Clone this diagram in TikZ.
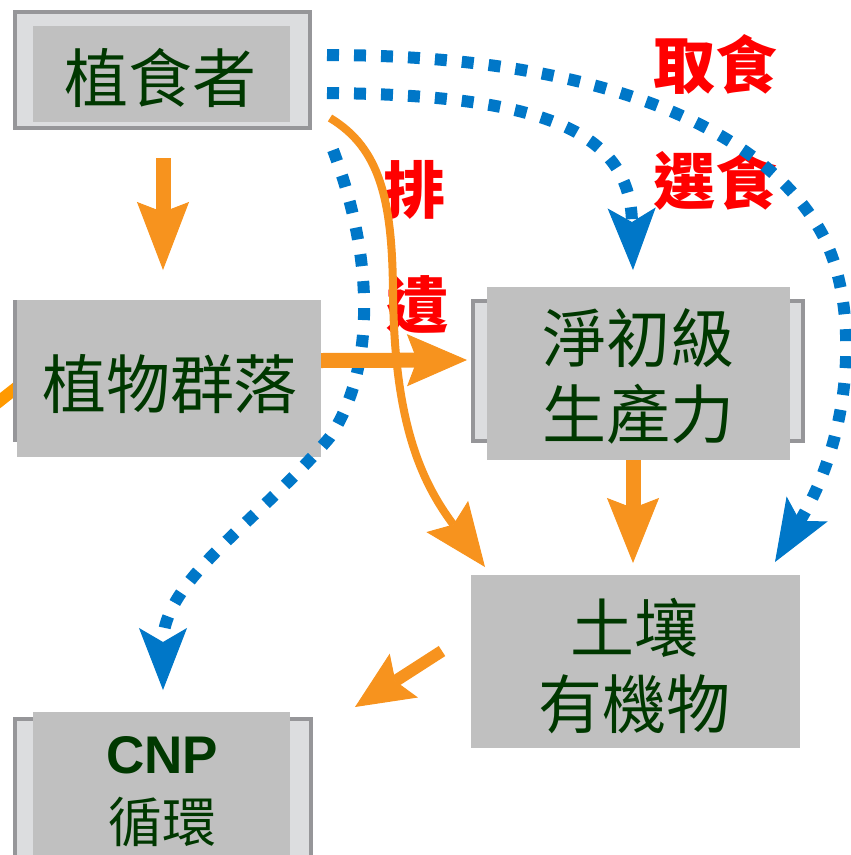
\documentclass[tikz,border=0pt]{standalone}
\usepackage{fontspec}
\setmainfont{Liberation Sans}
\newfontfamily\cjk{Noto Sans CJK TC}
\usetikzlibrary{arrows.meta,calc}
\definecolor{outfill}{RGB}{220,221,223}
\definecolor{outline}{RGB}{150,150,153}
\definecolor{infill}{RGB}{192,192,192}
\definecolor{txtgreen}{RGB}{0,56,0}
\definecolor{orng}{RGB}{247,147,30}
\definecolor{orngb}{RGB}{255,153,0}
\definecolor{blu}{RGB}{0,119,200}
\definecolor{redlab}{RGB}{255,0,0}
\begin{document}
\begin{tikzpicture}[x=1pt,y=-1pt,
  outbox/.style={draw=outline, line width=4pt, fill=outfill, inner sep=0pt},
  inbox/.style={fill=infill, inner sep=0pt},
  boxtext/.style={text=txtgreen, inner sep=0pt, align=center, font=\cjk\fontsize{64pt}{76pt}\selectfont},
  lab/.style={text=redlab, inner sep=0pt, font=\cjk\bfseries\fontsize{62pt}{62pt}\selectfont},
  otip/.style={-{Stealth[length=#1,width=52pt,inset=10pt,line width=1pt]}},
  oarrow/.style={draw=orng, line width=15pt},
  bdot/.style={draw=blu, line width=12pt, dash pattern=on 12pt off 15pt,
    -{Stealth[length=62pt,width=48pt,inset=14pt,line width=1pt]}}
]
\useasboundingbox (0,0) rectangle (851,855);

% left incoming orange stub (behind boxes)
\coordinate (stubA) at (-8,407);
\coordinate (stubB) at (30,377);
\draw[draw=orngb, line width=12pt] (stubA) -- (stubB);

% outer boxes
\node[outbox, minimum width=295pt, minimum height=116pt] (herbO) at (162.5,70) {};
\node[outbox, minimum width=296pt, minimum height=138pt] (plantO) at (163,371) {};
\node[outbox, minimum width=330pt, minimum height=140pt] (nppO) at (638,371) {};
\node[outbox, minimum width=296pt, minimum height=181pt] (cnpO) at (163,809.5) {};

% inner boxes
\node[inbox, minimum width=257pt, minimum height=96pt] (herb) at (161.5,74) {};
\node[inbox, minimum width=304pt, minimum height=157pt] (plant) at (169,378.5) {};
\node[inbox, minimum width=303pt, minimum height=173pt] (npp) at (638.5,373.5) {};
\node[inbox, minimum width=329pt, minimum height=173pt] (soil) at (635.5,661.5) {};
\node[inbox, minimum width=257pt, minimum height=188pt] (cnp) at (161.5,806) {};

% box texts
\node[boxtext] (herbT) at (160,78) {植食者};
\node[boxtext] (plantT) at (170,384) {植物群落};
\node[boxtext] (nppT) at (638,376) {淨初級\\生產力};
\node[boxtext] (soilT) at (634,666) {土壤\\有機物};
\node[text=txtgreen, inner sep=0pt, font=\bfseries\fontsize{53pt}{53pt}\selectfont] (cnpT) at (162,755) {CNP};
\node[boxtext, font=\cjk\fontsize{54pt}{54pt}\selectfont] (cycT) at (162,822) {循環};

% red labels
\node[lab] (takeL) at (715,64) {取食};
\node[lab] (selL) at (715,180) {選食};
\node[lab] (exL1) at (414,190) {排};
\node[lab] (exL2) at (417,305) {遺};

% blue dotted arrows
\coordinate (b1s) at (327,55);
\coordinate (b1m) at (820,230);
\coordinate (b1e) at (775,562);
\draw[bdot] (b1s) .. controls (560,55) and (750,110) .. (b1m)
  .. controls (860,300) and (855,430) .. (b1e);
\coordinate (b2s) at (327,93);
\coordinate (b2e) at (633,270);
\draw[bdot] (b2s) .. controls (540,95) and (630,130) .. (b2e);
\coordinate (b3s) at (333,150);
\coordinate (b3m) at (330,437);
\coordinate (b3e) at (163,690);
\draw[bdot] (b3s) .. controls (375,260) and (375,370) .. (b3m)
  .. controls (260,520) and (163,580) .. (b3e);

% orange arrows
\coordinate (a1s) at (163,158);
\coordinate (a1e) at (163,270);
\draw[oarrow, otip=68pt] (a1s) -- (a1e);
\coordinate (a2s) at ($(plant.east)+(0,-18)$);
\coordinate (a2e) at (467,360);
\draw[oarrow, otip=60pt] (a2s) -- (a2e);
\coordinate (a3s) at (633,460);
\coordinate (a3e) at (633,563);
\draw[oarrow, otip=65pt] (a3s) -- (a3e);
\coordinate (a4s) at (330,118);
\coordinate (a4m) at (393,290);
\coordinate (a4e) at (485,567);
\draw[draw=orng, line width=8pt, otip=63pt] (a4s) .. controls (380,148) and (392,200) .. (a4m)
  .. controls (394,420) and (420,480) .. (a4e);
\coordinate (a5s) at (442,651);
\coordinate (a5e) at (355,707);
\draw[draw=orng, line width=12pt, otip=58pt] (a5s) -- (a5e);
\end{tikzpicture}
\end{document}
